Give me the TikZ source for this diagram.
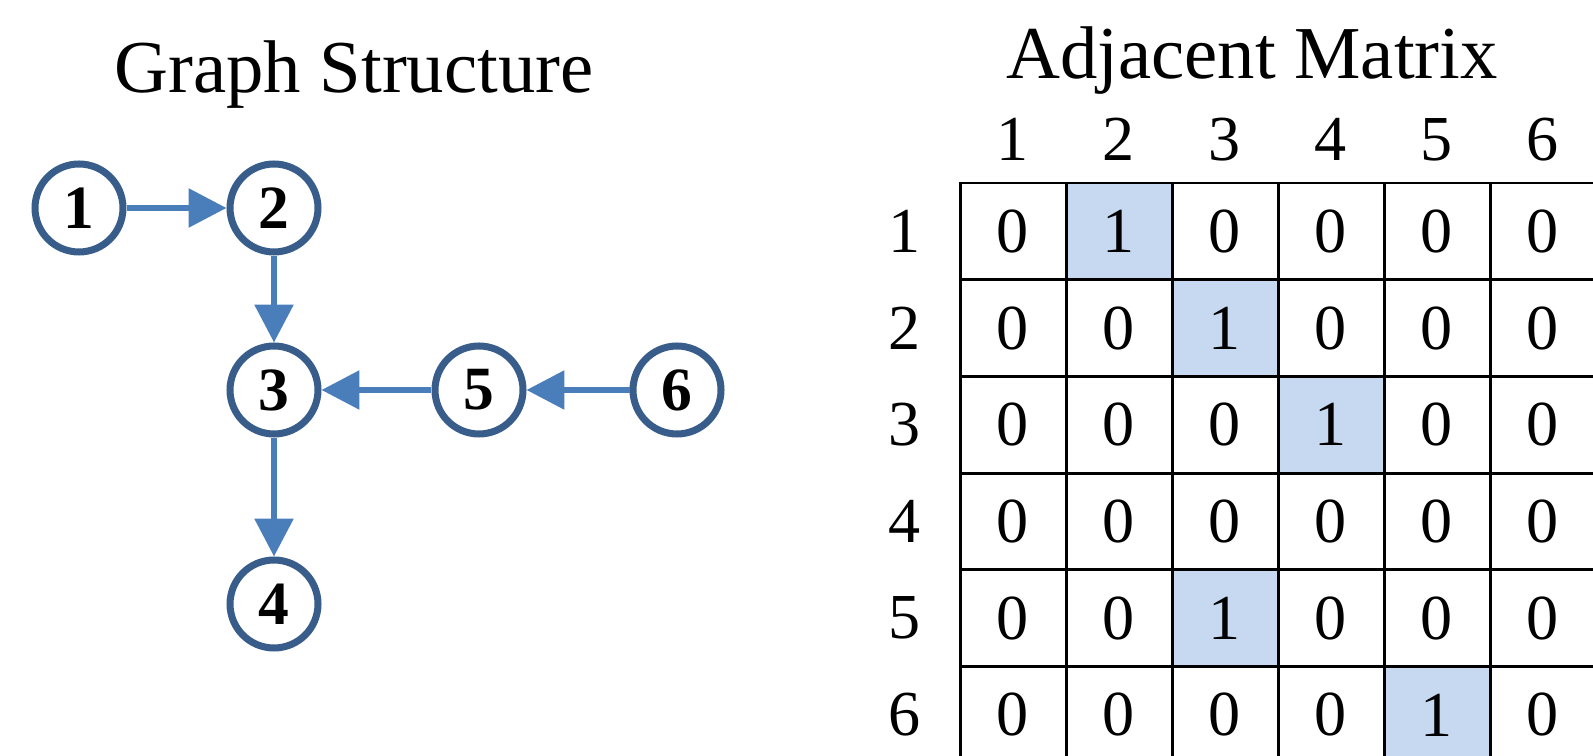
\documentclass[tikz,border=0pt]{standalone}
\usepackage{fontspec}
\setmainfont{Liberation Serif}
\usepackage{xcolor}
\usetikzlibrary{arrows.meta}

\definecolor{nodeline}{RGB}{56,93,138}
\definecolor{edgeblue}{RGB}{74,126,187}
\definecolor{cellblue}{RGB}{198,217,241}

\begin{document}
\begin{tikzpicture}[x=0.02cm,y=-0.02cm]
				\useasboundingbox (0,0) rectangle (1593,756);

				\node[anchor=base,font=\fontsize{42.5}{46}\selectfont] (gtitle) at (354,93) {Graph Structure};
				\node[anchor=base,font=\fontsize{42.5}{46}\selectfont] (mtitle) at (1252,79) {Adjacent Matrix};

				\begin{scope}[every node/.style={circle,draw=nodeline,line width=4pt,fill=white,
				              minimum size=1.76cm,inner sep=0pt,font=\fontsize{35}{38}\selectfont\bfseries}]
				    \node (A) at (79,208) {1};
				    \node (B) at (274,208) {2};
				    \node (C) at (274,390) {3};
				    \node (D) at (274,604) {4};
				    \node (E) at (479,390) {5};
				    \node (F) at (677,390) {6};
				\end{scope}

				\begin{scope}[>={Triangle[length=21.5pt,width=21.5pt]},
				              every edge/.style={draw=edgeblue,line width=3.4pt}]
				    \path [->] (A) edge (B);
				    \path [->] (B) edge (C);
				    \path [->] (C) edge (D);
				    \path [->] (E) edge (C);
				    \path [->] (F) edge (E);
				\end{scope}

				\begin{scope}[every node/.style={font=\fontsize{36.5}{40}\selectfont}]
				    \foreach \c in {1,...,6}
				        \node (col\c) at ({1013+106*(\c-1)},139.5) {\c};
				    \foreach \r in {1,...,6}
				        \node (row\r) at (905,{231.35+96.7*(\r-1)}) {\r};
				    \foreach \row [count=\r] in {{0,1,0,0,0,0},{0,0,1,0,0,0},{0,0,0,1,0,0},
				                                 {0,0,0,0,0,0},{0,0,1,0,0,0},{0,0,0,0,1,0}}
				        \foreach \v [count=\c] in \row
				            \node[draw,line width=1.7pt,fill=cellblue!\v00!white,rectangle,
				                  minimum width=2.12cm,minimum height=1.934cm,inner sep=0pt,outer sep=0pt]
				                (cell-\r-\c) at ({1013+106*(\c-1)},{231.35+96.7*(\r-1)}) {\v};
				\end{scope}
				\end{tikzpicture}
\end{document}
